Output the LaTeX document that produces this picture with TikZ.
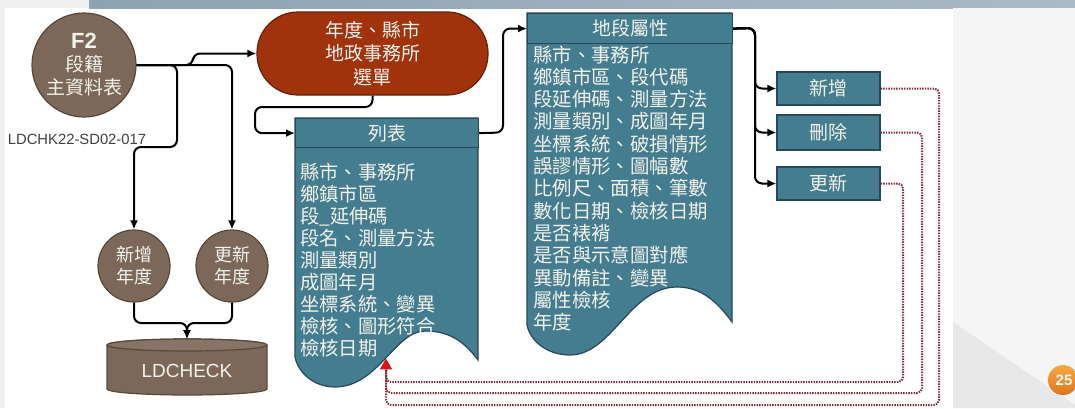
\documentclass[tikz,border=0pt]{standalone}
\usepackage{fontspec}
\setmainfont{Liberation Sans}
\newfontfamily\cjk{Noto Sans CJK TC}
\usetikzlibrary{arrows.meta}
\definecolor{tealf}{RGB}{69,125,144}
\definecolor{teald}{RGB}{38,72,88}
\definecolor{brownf}{RGB}{124,104,89}
\definecolor{brownd}{RGB}{88,72,60}
\definecolor{redf}{RGB}{160,50,12}
\definecolor{redd}{RGB}{105,30,6}
\definecolor{txt}{RGB}{242,242,236}
\definecolor{dotred}{RGB}{135,40,58}
\definecolor{tipred}{RGB}{222,20,20}
\definecolor{orangea}{RGB}{245,170,70}
\definecolor{orangeb}{RGB}{225,115,25}
\begin{document}
\begin{tikzpicture}[x=1pt,y=-1pt,
  conn/.style={draw=black,line width=2pt,rounded corners=7,-{Latex[length=9pt,width=8pt]}},
  redconn/.style={draw=dotred,line width=2pt,dash pattern=on 1.4pt off 1.2pt,rounded corners=5,
    -{Triangle[length=10pt,width=11pt,fill=tipred,color=tipred]}},
  browncirc/.style={circle,draw=brownd,line width=1.2pt,fill=brownf,text=txt,inner sep=0pt,align=center},
  boxt/.style={rectangle,draw=teald,line width=1.2pt,fill=tealf,text=txt,inner sep=0pt,
    font=\cjk\fontsize{19}{22}\selectfont},
  docbody/.style={draw=teald,line width=1.2pt,fill=tealf},
  listtext/.style={anchor=base west,inner sep=0pt,text=txt,font=\cjk\fontsize{19.3}{22}\selectfont},
  attrtext/.style={anchor=base west,inner sep=0pt,text=txt,font=\cjk\fontsize{19.4}{22}\selectfont}
]
\useasboundingbox (0,0) rectangle (1075,408);
% background of the slide
\fill[black!6] (0,0) rectangle (1075,408);
\fill[white] (5,8) rectangle (953,408);
\shade[left color={rgb,255:red,140;green,163;blue,178},right color={rgb,255:red,170;green,186;blue,198}] (89,0) rectangle (1075,8);
\fill[black!4] (953,8) rectangle (1075,408);
\fill[black!9] (953,322) -- (1075,405) -- (1075,408) -- (953,408) -- cycle;
\shade[top color=orangea,bottom color=orangeb] (1063,380) circle[radius=15];
\node[text=white,font=\bfseries\fontsize{15}{15}\selectfont,inner sep=0pt] (pg) at (1064,380) {25};

% F2 master table
\node[browncirc,minimum size=104pt,font=\cjk\fontsize{19}{23}\selectfont] (f2) at (84,65)
  {\rmfamily\bfseries\fontsize{22}{24}\selectfont F2\\\cjk\mdseries\fontsize{19}{22}\selectfont 段籍\\主資料表};
\node[text=black!75,font=\fontsize{14.8}{15}\selectfont,inner sep=0pt] (code) at (77,139) {LDCHK22-SD02-017};

% year circles
\node[browncirc,minimum size=72pt,font=\cjk\fontsize{18}{22}\selectfont] (addy) at (134,266) {新增\\年度};
\node[browncirc,minimum size=72pt,font=\cjk\fontsize{18}{22}\selectfont] (updy) at (232,266) {更新\\年度};

% LDCHECK cylinder
\draw[draw=brownd,line width=1.2pt,fill=brownf] (107,345) -- (107,389)
  arc[start angle=180,end angle=0,x radius=80,y radius=6] -- (267,345)
  arc[start angle=0,end angle=-180,x radius=80,y radius=6] -- cycle;
\draw[draw=brownd,line width=1.2pt,fill=brownf!92!white] (187,345) ellipse[x radius=80,y radius=6];
\coordinate (dbtop) at (187,339);
\node[text=txt,font=\fontsize{19}{19}\selectfont,inner sep=0pt] (db) at (187,371) {LDCHECK};

% selection oval
\node[rectangle,rounded corners=41pt,draw=redd,line width=1.2pt,fill=redf,text=txt,
  minimum width=231pt,minimum height=83pt,align=center,inner sep=0pt,
  font=\cjk\fontsize{19}{23.5}\selectfont] (oval) at (372.5,53.5) {年度、縣市\\地政事務所\\選單};

% list document
\draw[docbody] (295,118) -- (478,118) -- (478,360)
  .. controls (463,340) and (448,331) .. (425,331)
  .. controls (395,331) and (378,387) .. (335,387)
  .. controls (313,387) and (298,372) .. (295,357) -- cycle;
\node[boxt,minimum width=183pt,minimum height=29pt,anchor=north west] (listT) at (295,118) {列表};
\foreach \t [count=\i] in {縣市、事務所,鄉鎮市區,段\_延伸碼,段名、測量方法,測量類別,成圖年月,坐標系統、變異,檢核、圖形符合,檢核日期}
  \node[listtext] (l\i) at (300,{179+22*(\i-1)}) {\t};
\coordinate (listBot) at (386,359);

% attribute document
\draw[docbody] (527,13) -- (732,13) -- (732,322)
  .. controls (716,300) and (700,287) .. (677,287)
  .. controls (630,287) and (612,355) .. (570,355)
  .. controls (546,355) and (530,340) .. (527,325) -- cycle;
\node[boxt,minimum width=205pt,minimum height=30pt,anchor=north west] (attrT) at (527,13) {地段屬性};
\foreach \t [count=\i] in {縣市、事務所,鄉鎮市區、段代碼,段延伸碼、測量方法,測量類別、成圖年月,坐標系統、破損情形,誤謬情形、圖幅數,比例尺、面積、筆數,數化日期、檢核日期,是否裱褙,是否與示意圖對應,異動備註、變異,屬性檢核,年度}
  \node[attrtext] (a\i) at (533,{62+22.3*(\i-1)}) {\t};

% action boxes
\node[boxt,minimum width=103pt,minimum height=33pt] (addB) at (828.5,88.5) {新增};
\node[boxt,minimum width=103pt,minimum height=35pt] (delB) at (828.5,132.5) {刪除};
\node[boxt,minimum width=103pt,minimum height=33pt] (updB) at (828.5,183.5) {更新};

% black connectors
\draw[conn] (f2.east) -- (193,65) |- (oval.west);
\draw[conn] (f2.east) -- (177,65) -- (177,147) -- (134,147) -- (addy.north);
\draw[conn] (f2.east) -| (updy.north);
\draw[conn] (addy.south) |- (187,323) -- (dbtop);
\draw[conn] (updy.south) |- (187,323) -- (dbtop);
\draw[conn] (oval.south) |- (255,107) |- (listT.west);
\draw[conn] (listT.east) -- (503,132.5) |- (attrT.west);
\draw[conn] (attrT.east) -- (755,28) |- (addB.west);
\draw[conn] (attrT.east) -- (755,28) |- (delB.west);
\draw[conn] (attrT.east) -- (755,28) |- (updB.west);

% red dotted feedback connectors
\draw[redconn] (addB.east) -- (939,88.5) -- (939,405) -- (386,405) -- (listBot);
\draw[redconn] (delB.east) -- (922,132.5) -- (922,393) -- (386,393) -- (listBot);
\draw[redconn] (updB.east) -- (903,183.5) -- (903,382) -- (386,382) -- (listBot);
\end{tikzpicture}
\end{document}
